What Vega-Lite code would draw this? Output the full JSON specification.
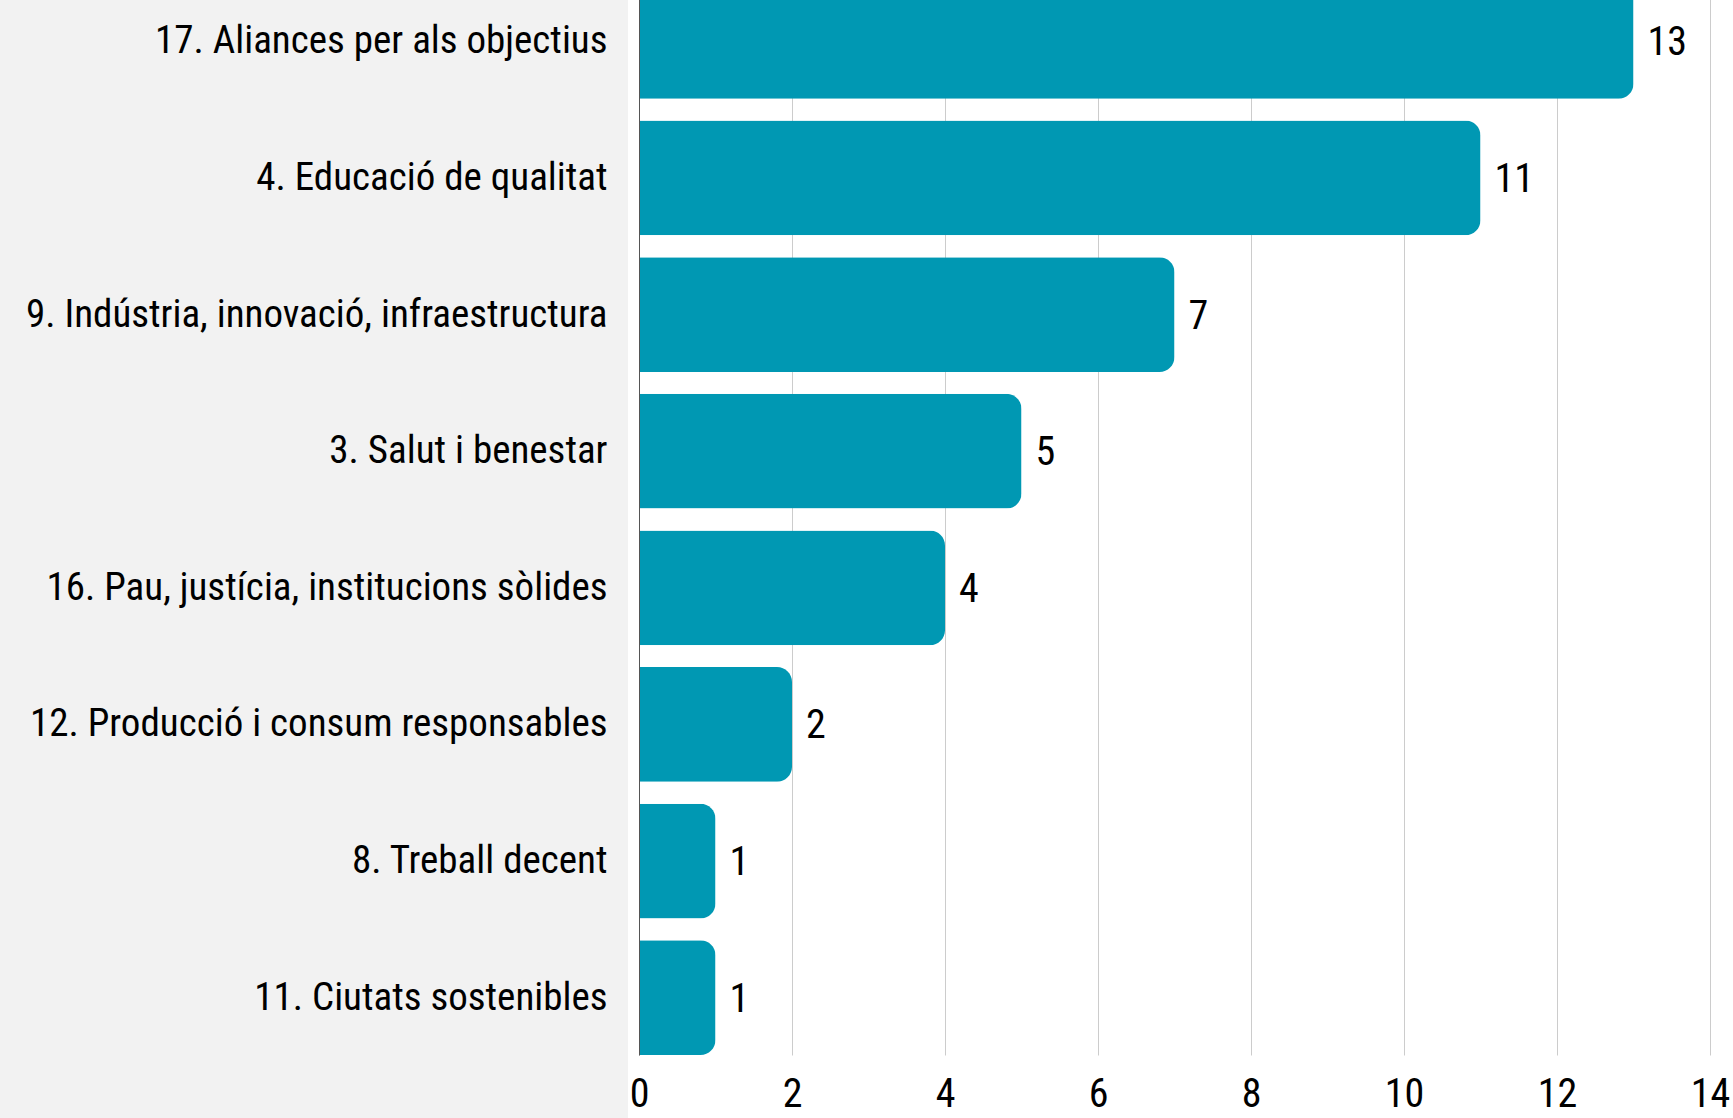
{
  "$schema": "https://vega.github.io/schema/vega-lite/v6.json",
  "autosize": {"type": "none"},
  "padding": {"left": 639, "top": -16, "right": 23, "bottom": 63},
  "width": 1071,
  "height": 1071,
  "background": "white",
  "config": {
    "view": {"stroke": null},
    "font": "Roboto Condensed, DejaVu Sans Condensed, Liberation Sans Narrow, sans-serif"
  },
  "datasets": {
    "bars": [
      {"objectiu": "17. Aliances per als objectius", "valor": 13},
      {"objectiu": "4. Educació de qualitat", "valor": 11},
      {"objectiu": "9. Indústria, innovació, infraestructura", "valor": 7},
      {"objectiu": "3. Salut i benestar", "valor": 5},
      {"objectiu": "16. Pau, justícia, institucions sòlides", "valor": 4},
      {"objectiu": "12. Producció i consum responsables", "valor": 2},
      {"objectiu": "8. Treball decent", "valor": 1},
      {"objectiu": "11. Ciutats sostenibles", "valor": 1}
    ],
    "panel": [
      {"x1": -8.4, "x2": -0.144, "y1": -0.08, "y2": 1.06}
    ]
  },
  "layer": [
    {
      "data": {"name": "panel"},
      "mark": {"type": "rect", "color": "#f2f2f2", "clip": false},
      "encoding": {
        "x": {"field": "x1", "type": "quantitative", "scale": {"domain": [0, 14], "nice": false}},
        "x2": {"field": "x2"},
        "y": {"field": "y1", "type": "quantitative", "scale": {"domain": [0, 1], "nice": false, "zero": false}, "axis": null},
        "y2": {"field": "y2"}
      }
    },
    {
      "data": {"name": "bars"},
      "layer": [
        {
          "mark": {"type": "bar", "color": "#0098b3", "cornerRadiusEnd": 15},
          "encoding": {
            "y": {
              "field": "objectiu", "type": "nominal", "sort": null,
              "scale": {"paddingInner": 0.16, "paddingOuter": 0},
              "axis": {
                "title": null, "ticks": false, "labelPadding": 32,
                "labelFontSize": 39, "labelColor": "#000000", "labelLimit": 700,
                "domainColor": "#555555", "domainWidth": 1, "zindex": 1
              }
            },
            "x": {
              "field": "valor", "type": "quantitative",
              "scale": {"domain": [0, 14], "nice": false},
              "axis": {
                "title": null, "values": [0, 2, 4, 6, 8, 10, 12, 14], "format": "d",
                "domain": false, "ticks": false, "grid": true,
                "gridColor": "#cccccc", "gridWidth": 1, "labelFlush": false,
                "labelFontSize": 40, "labelColor": "#000000", "labelPadding": 19, "zindex": 0
              }
            }
          }
        },
        {
          "mark": {"type": "text", "align": "left", "baseline": "middle", "dx": 14, "dy": 2, "fontSize": 40, "color": "#000000"},
          "encoding": {
            "y": {"field": "objectiu", "type": "nominal", "sort": null},
            "x": {"field": "valor", "type": "quantitative"},
            "text": {"field": "valor", "type": "quantitative"}
          }
        }
      ]
    }
  ],
  "resolve": {"scale": {"y": "independent"}}
}
